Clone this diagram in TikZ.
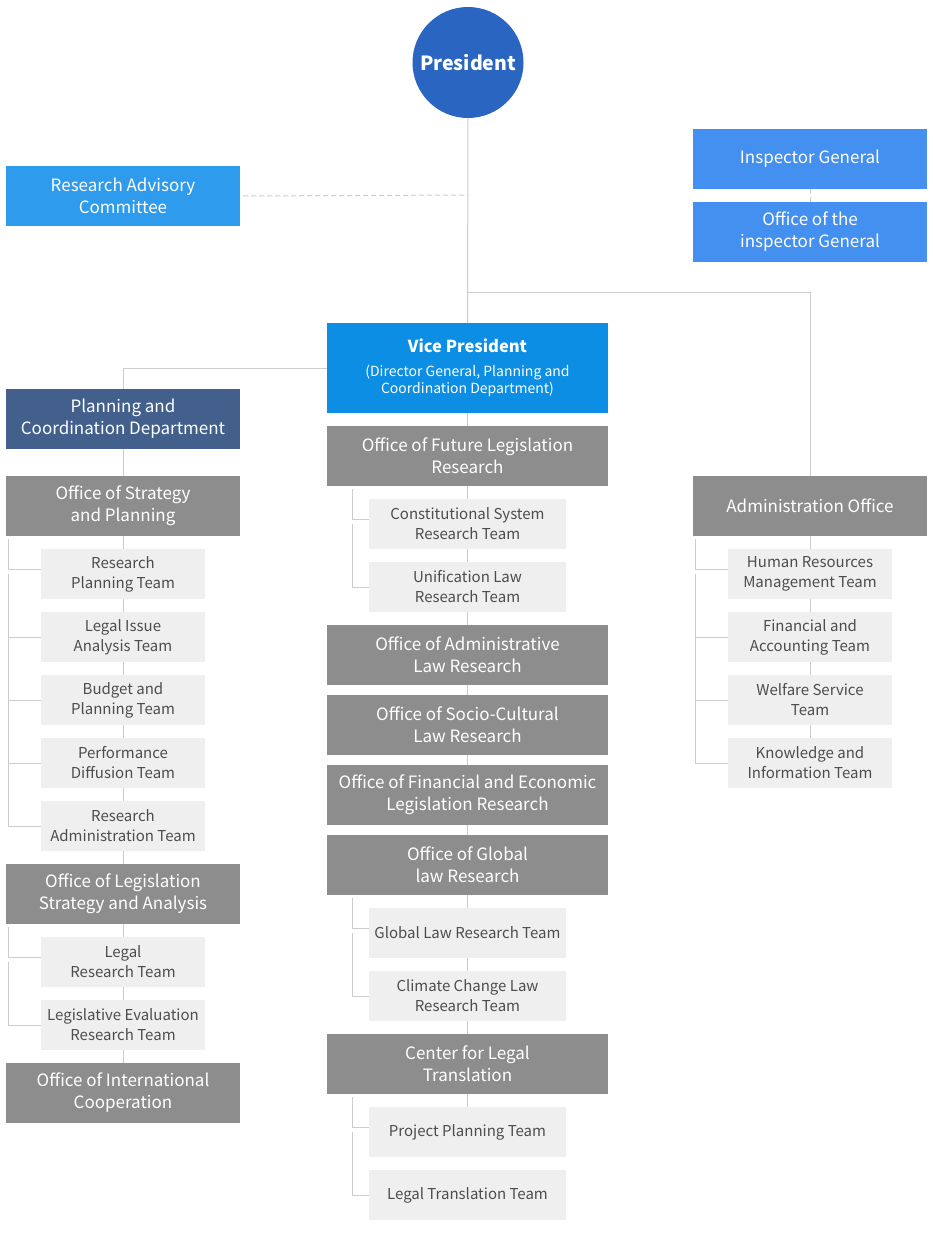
\documentclass[tikz,border=0pt]{standalone}
\usepackage{fontspec}
\setmainfont{Noto Sans CJK KR}
\usetikzlibrary{backgrounds}
\definecolor{cPres}{HTML}{2B65C2}
\definecolor{cRAC}{HTML}{2E9BEC}
\definecolor{cIG}{HTML}{4490F1}
\definecolor{cVP}{HTML}{0B8EE3}
\definecolor{cPCD}{HTML}{435F8C}
\definecolor{cGray}{HTML}{8D8D8D}
\definecolor{cTeam}{HTML}{EFEFEF}
\definecolor{cTeamTxt}{HTML}{4D4D4D}
\definecolor{cLine}{HTML}{CCCCCC}
\tikzset{
  base/.style={rectangle, inner sep=0pt, align=center, text=white},
  mainbox/.style={base, minimum width=234pt, minimum height=60pt, font=\fontsize{17}{22}\selectfont},
  widebox/.style={base, minimum width=281pt, minimum height=60pt, font=\fontsize{17}{22}\selectfont},
  graybox/.style={fill=cGray},
  teambox/.style={rectangle, inner sep=0pt, align=center, fill=cTeam, text=cTeamTxt, minimum width=164pt, minimum height=50pt, font=\fontsize{15}{20}\selectfont},
  wteam/.style={teambox, minimum width=197pt},
  conn/.style={draw=cLine, line width=1pt},
  dconn/.style={conn, dash pattern=on 5pt off 3pt},
}
\begin{document}
\begin{tikzpicture}[x=1pt,y=-1pt]
\useasboundingbox (0,0) rectangle (933,1244);
% top
\node[circle, fill=cPres, minimum size=111pt, inner sep=0pt, text=white, font=\fontsize{19.5}{24}\selectfont\bfseries] (pres) at (468,62.5) {President};
\node[mainbox, fill=cRAC] (rac) at (123,196) {Research Advisory\\Committee};
\node[mainbox, fill=cIG] (ig) at (810,159) {Inspector General};
\node[mainbox, fill=cIG] (oig) at (810,232) {Office of the\\inspector General};
\node[widebox, fill=cVP, minimum height=90pt, font=\fontsize{14}{17}\selectfont] (vp) at (467.5,368) {{\fontsize{16.5}{20}\selectfont\bfseries Vice President}\\[7pt](Director General, Planning and\\Coordination Department)};
% left column
\node[mainbox, fill=cPCD] (pcd) at (123,419) {Planning and\\Coordination Department};
\node[mainbox, graybox] (osp) at (123,506) {Office of Strategy\\and Planning};
\node[teambox] (l1) at (123,574) {Research\\Planning Team};
\node[teambox] (l2) at (123,637) {Legal Issue\\Analysis Team};
\node[teambox] (l3) at (123,700) {Budget and\\Planning Team};
\node[teambox] (l4) at (123,763) {Performance\\Diffusion Team};
\node[teambox] (l5) at (123,826) {Research\\Administration Team};
\node[mainbox, graybox] (olsa) at (123,894) {Office of Legislation\\Strategy and Analysis};
\node[teambox] (l6) at (123,962) {Legal\\Research Team};
\node[teambox] (l7) at (123,1025) {Legislative Evaluation\\Research Team};
\node[mainbox, graybox] (oic) at (123,1093) {Office of International\\Cooperation};
% center column
\node[widebox, graybox] (oflr) at (467.5,456) {Office of Future Legislation\\Research};
\node[wteam] (c1) at (467.5,524) {Constitutional System\\Research Team};
\node[wteam] (c2) at (467.5,587) {Unification Law\\Research Team};
\node[widebox, graybox] (oalr) at (467.5,655) {Office of Administrative\\Law Research};
\node[widebox, graybox] (oscl) at (467.5,725) {Office of Socio-Cultural\\Law Research};
\node[widebox, graybox] (ofel) at (467.5,795) {Office of Financial and Economic\\Legislation Research};
\node[widebox, graybox] (oglr) at (467.5,865) {Office of Global\\law Research};
\node[wteam] (c3) at (467.5,933) {Global Law Research Team};
\node[wteam] (c4) at (467.5,996) {Climate Change Law\\Research Team};
\node[widebox, graybox] (clt) at (467.5,1064) {Center for Legal\\Translation};
\node[wteam] (c5) at (467.5,1132) {Project Planning Team};
\node[wteam] (c6) at (467.5,1195) {Legal Translation Team};
% right column
\node[mainbox, graybox] (adm) at (810,506) {Administration Office};
\node[teambox] (r1) at (810,574) {Human Resources\\Management Team};
\node[teambox] (r2) at (810,637) {Financial and\\Accounting Team};
\node[teambox] (r3) at (810,700) {Welfare Service\\Team};
\node[teambox] (r4) at (810,763) {Knowledge and\\Information Team};
% coordinates
\coordinate (racj) at (468,195);
\coordinate (rj) at (468,292);
\coordinate (bL) at (8,0);
\coordinate (bC) at (352,0);
\coordinate (bR) at (695.5,0);
\begin{scope}[on background layer]
% top connectors
\draw[conn] (pres.south) -- (vp.north);
\draw[dconn] (rac.east) ++(3,0) -- (racj);
\draw[dconn] (ig.south) -- (oig.north);
\draw[conn] (rj) -| (adm.north);
\draw[conn] (vp.west) -| (pcd.north);
% left spine
\draw[conn] (pcd.south) -- (osp.north);
\draw[conn] (osp.south) -- (oic.north);
\draw[conn] (bL |- osp.south) ++(0,3) |- ([yshift=5pt]l1.west);
\draw[conn] (bL |- l1.west) -- (bL |- l5.west) -- (l5.west);
\draw[conn] (bL |- l2.west) -- (l2.west);
\draw[conn] (bL |- l3.west) -- (l3.west);
\draw[conn] (bL |- l4.west) -- (l4.west);
\draw[conn] (bL |- olsa.south) ++(0,3) |- ([yshift=5pt]l6.west);
\draw[conn] (bL |- l6.west) -- (bL |- l7.west) -- (l7.west);
% center spine
\draw[conn] (vp.south) -- (oflr.north);
\draw[conn] (oflr.south) -- (c5.north);
\draw[conn] (bC |- oflr.south) ++(0,3) |- ([yshift=5pt]c1.west);
\draw[conn] (bC |- c1.west) -- (bC |- c2.west) -- (c2.west);
\draw[conn] (bC |- oglr.south) ++(0,3) |- ([yshift=5pt]c3.west);
\draw[conn] (bC |- c3.west) -- (bC |- c4.west) -- (c4.west);
\draw[conn] (bC |- clt.south) ++(0,3) |- ([yshift=5pt]c5.west);
\draw[conn] (bC |- c5.west) -- (bC |- c6.west) -- (c6.west);
% right spine
\draw[conn] (adm.south) -- (r4.north);
\draw[conn] (bR |- adm.south) ++(0,3) |- ([yshift=5pt]r1.west);
\draw[conn] (bR |- r1.west) -- (bR |- r4.west) -- (r4.west);
\draw[conn] (bR |- r2.west) -- (r2.west);
\draw[conn] (bR |- r3.west) -- (r3.west);
\end{scope}
\end{tikzpicture}
\end{document}
